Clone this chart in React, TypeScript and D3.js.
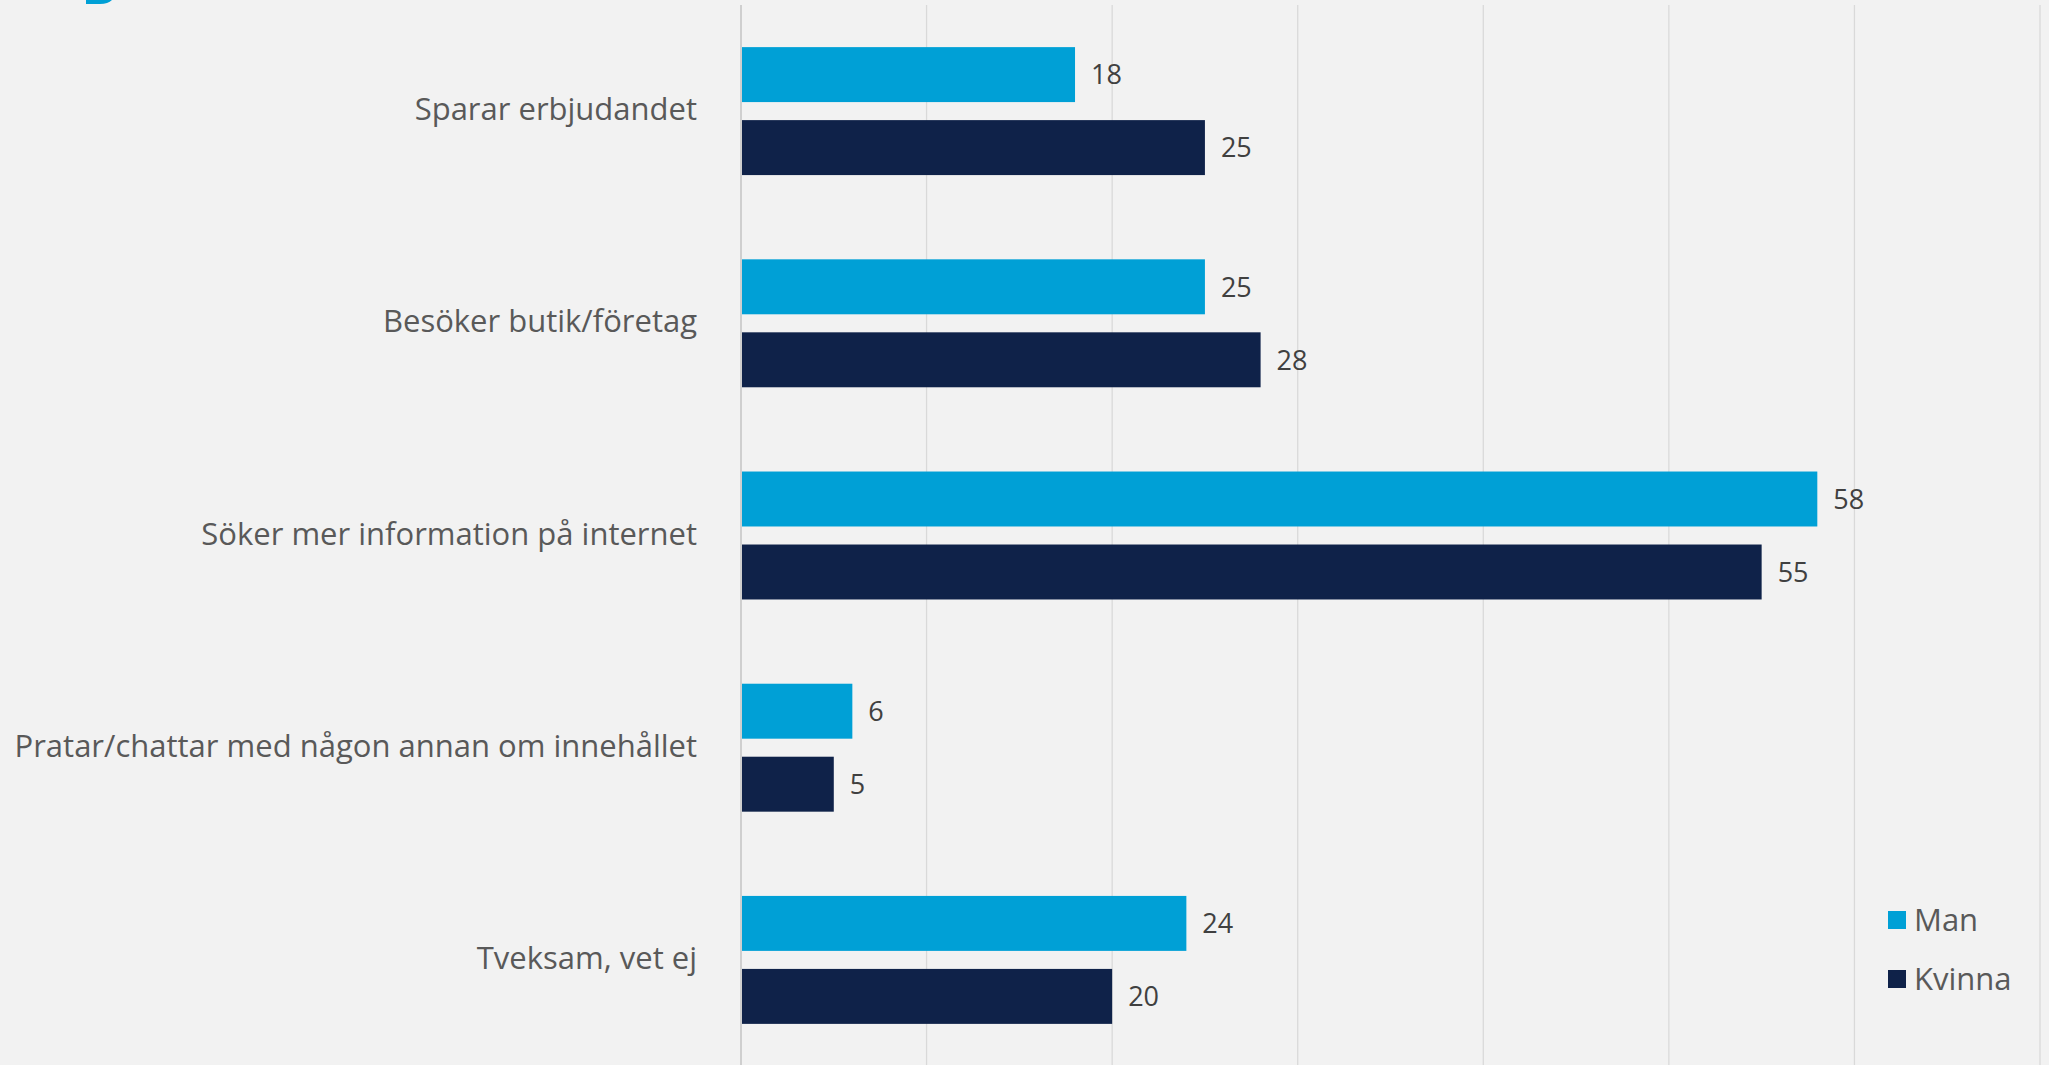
import React from "react";
import * as d3 from "d3";

const categories = [
  "Sparar erbjudandet",
  "Besöker butik/företag",
  "Söker mer information på internet",
  "Pratar/chattar med någon annan om innehållet",
  "Tveksam, vet ej",
];
const seriesNames = ["Man", "Kvinna"];
const manValues = [18, 25, 58, 6, 24];
const kvinnaValues = [25, 28, 55, 5, 20];
const xTicks = [0, 10, 20, 30, 40, 50, 60, 70];

const colors: Record<string, string> = { Man: "#00A0D6", Kvinna: "#0F2249" };

export default function App() {
  const W = 2049;
  const H = 1065;
  const plotLeft = 741;
  const plotRight = 2040;
  const plotTop = 5;
  const plotBottom = 1066;

  const x = d3.scaleLinear().domain([0, 70]).range([plotLeft, plotRight]);
  const y = d3
    .scaleBand<string>()
    .domain(categories)
    .range([plotTop, plotBottom])
    .paddingInner(0.397)
    .paddingOuter(0.1985);
  const inner = d3
    .scaleBand<string>()
    .domain(seriesNames)
    .range([0, y.bandwidth()])
    .paddingInner(0.247)
    .paddingOuter(0);

  const data = categories.map((c, i) => ({
    cat: c,
    vals: [
      { s: "Man", v: manValues[i] },
      { s: "Kvinna", v: kvinnaValues[i] },
    ],
  }));

  const font = "'Open Sans', 'Noto Sans', sans-serif";
  const textColor = "#595959";

  return (
    <div style={{ position: "absolute", left: 0, top: 0, width: W, height: H, overflow: "hidden" }}>
      <svg width={W} height={H} style={{ display: "block", background: "#F2F2F2" }}>
        <rect x={0} y={0} width={W} height={H} fill="#F2F2F2" />
        <path d="M86,0 L112,0 Q108,4 100,4 L86,4 Z" fill="#00A0D6" />
        {xTicks.map((t) => (
          <line
            key={t}
            x1={x(t)}
            x2={x(t)}
            y1={plotTop}
            y2={plotBottom}
            stroke={t === 0 ? "#CFCFCF" : "#D9D9D9"}
            strokeWidth={t === 0 ? 2 : 1.3}
          />
        ))}
        {data.map((d) => {
          const y0 = y(d.cat)!;
          return (
            <g key={d.cat}>
              {d.vals.map((b) => {
                const by = y0 + inner(b.s)!;
                return (
                  <g key={b.s}>
                    <rect
                      x={x(0) + 1}
                      y={by}
                      width={x(b.v) - x(0) - 1}
                      height={inner.bandwidth()}
                      fill={colors[b.s]}
                    />
                    <text
                      x={x(b.v) + 16}
                      y={by + inner.bandwidth() / 2}
                      dy="0.36em"
                      fontFamily={font}
                      fontSize={27}
                      fill="#404040"
                    >
                      {b.v}
                    </text>
                  </g>
                );
              })}
              <text
                x={697}
                y={y0 + y.bandwidth() / 2 - 2}
                dy="0.36em"
                textAnchor="end"
                fontFamily={font}
                fontSize={31}
                fill={textColor}
              >
                {d.cat}
              </text>
            </g>
          );
        })}
        {seriesNames.map((s, i) => (
          <g key={s} transform={`translate(1888, ${911 + i * 59})`}>
            <rect x={0} y={0} width={18} height={18} fill={colors[s]} />
            <text x={26} y={9} dy="0.36em" fontFamily={font} fontSize={31} fill={textColor}>
              {s}
            </text>
          </g>
        ))}
      </svg>
    </div>
  );
}
